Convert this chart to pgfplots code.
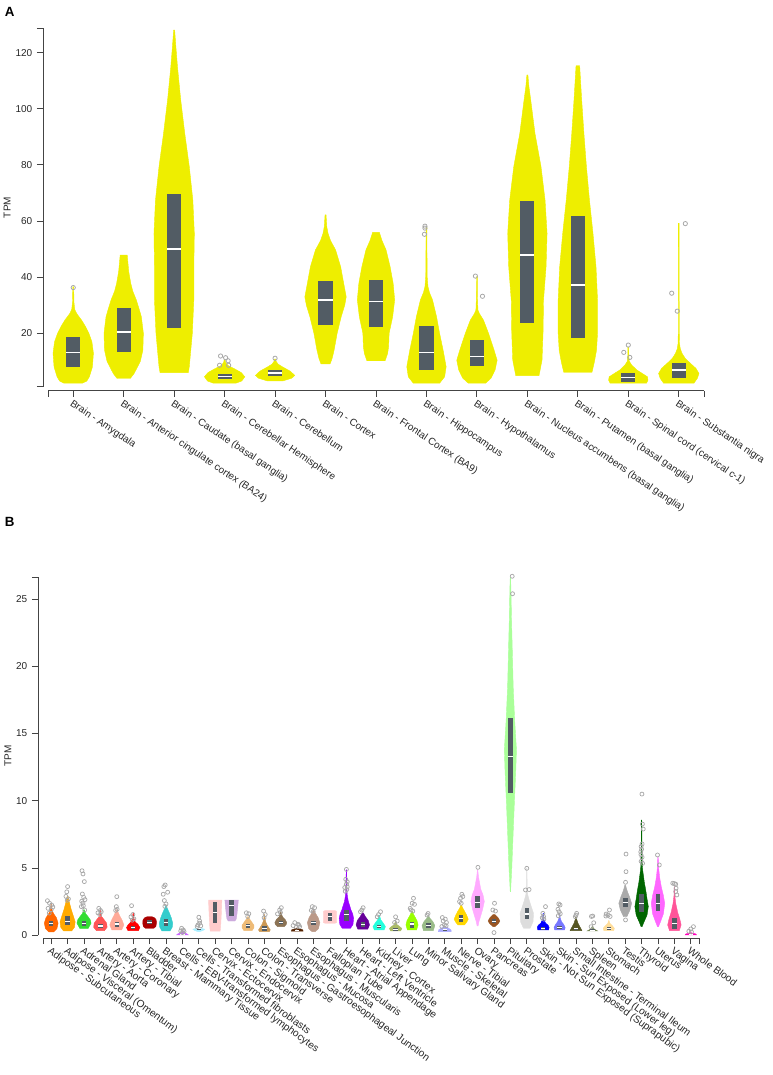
\documentclass[border=0pt]{standalone}
\usepackage{fontspec}
\setmainfont{Liberation Sans}
\usepackage{pgfplots}
\pgfplotsset{compat=1.18}

\definecolor{brain}{HTML}{EEEE00}
\definecolor{boxc}{HTML}{525C64}
\definecolor{outl}{HTML}{A8A8A8}
\definecolor{axc}{HTML}{444444}
\definecolor{c00}{HTML}{FF6600}\definecolor{c01}{HTML}{FFAA00}
\definecolor{c02}{HTML}{33DD33}\definecolor{c03}{HTML}{FF5555}
\definecolor{c04}{HTML}{FFAA99}\definecolor{c05}{HTML}{FF0000}
\definecolor{c06}{HTML}{AA0000}\definecolor{c07}{HTML}{33CCCC}
\definecolor{c08}{HTML}{CC66FF}\definecolor{c09}{HTML}{AAEEFF}
\definecolor{c10}{HTML}{FFCCCC}\definecolor{c11}{HTML}{CCAADD}
\definecolor{c12}{HTML}{EEBB77}\definecolor{c13}{HTML}{CC9955}
\definecolor{c14}{HTML}{8B7355}\definecolor{c15}{HTML}{552200}
\definecolor{c16}{HTML}{BB9988}\definecolor{c17}{HTML}{FFCCCC}
\definecolor{c18}{HTML}{9900FF}\definecolor{c19}{HTML}{660099}
\definecolor{c20}{HTML}{22FFDD}\definecolor{c21}{HTML}{AABB66}
\definecolor{c22}{HTML}{99FF00}\definecolor{c23}{HTML}{99BB88}
\definecolor{c24}{HTML}{AAAAFF}\definecolor{c25}{HTML}{FFD700}
\definecolor{c26}{HTML}{FFAAFF}\definecolor{c27}{HTML}{995522}
\definecolor{c28}{HTML}{AAFF99}\definecolor{c29}{HTML}{DDDDDD}
\definecolor{c30}{HTML}{0000FF}\definecolor{c31}{HTML}{7777FF}
\definecolor{c32}{HTML}{555522}\definecolor{c33}{HTML}{778855}
\definecolor{c34}{HTML}{FFDD99}\definecolor{c35}{HTML}{AAAAAA}
\definecolor{c36}{HTML}{006600}\definecolor{c37}{HTML}{FF66FF}
\definecolor{c38}{HTML}{FF5599}\definecolor{c39}{HTML}{FF00BB}

% violin: centre, colour, list "y/halfwidth" from bottom to top (ends at w=0).
% builds one closed outline: right side going up, left side coming down
\newcommand{\violin}[3]{%
  \gdef\vR{}\gdef\vL{}%
  \foreach \yy/\ww in {#3}{%
    \xdef\vR{\unexpanded\expandafter{\vR}\yy\space\ww\space 1\noexpand\\}%
    \xdef\vL{\yy\space\ww\space -1\noexpand\\\unexpanded\expandafter{\vL}}%
  }%
  \edef\vtab{y w s\noexpand\\\unexpanded\expandafter{\vR}\unexpanded\expandafter{\vL}}%
  \def\vdo##1{\addplot[fill=#2,draw=#2,line width=0.3pt] table[row sep=\\,x expr=#1+\thisrow{s}*\thisrow{w},y=y]{##1};}%
  \expandafter\vdo\expandafter{\vtab}%
}
% box: centre, q1, median, q3
\def\bw{0.14}
\def\mlw{1.1pt}
\newcommand{\bx}[4]{%
  \addplot[fill=boxc,draw=none] table[row sep=\\,x expr=#1+\thisrow{d}*\bw,y=y]{d y\\-1 #2\\1 #2\\1 #4\\-1 #4\\};
  \addplot[draw=white,line width=\mlw] table[row sep=\\,x expr=#1+\thisrow{d}*\bw,y=y]{d y\\-1 #3\\1 #3\\};
}

\pgfplotsset{
  vio/.style={
    scale only axis, width=492pt, height=268.65pt,
    axis x line=bottom, axis y line=left,
    axis line style={-,draw=axc,line width=0.75pt},
    tick align=outside, major tick length=4.5pt,
    tick style={draw=axc,line width=0.75pt},
    tick label style={font=\fontsize{7.5}{9}\selectfont,text=black!85},
    /pgf/number format/assume math mode=true,
    xticklabel style={rotate=-34,anchor=north west,inner sep=1pt},
    extra x tick labels={}, extra y tick labels={},
    clip=false,
  }
}

\begin{document}
\begin{tikzpicture}
\path[use as bounding box] (0,0) rectangle (579pt,806.25pt);

\node[font=\bfseries\fontsize{10}{12}\selectfont] at (7.2pt,797.4pt) {A};
\node[font=\bfseries\fontsize{10}{12}\selectfont] at (7.2pt,414.8pt) {B};
\node[rotate=90,font=\fontsize{7.5}{9}\selectfont,text=black!85] at (5.3pt,650.6pt) {TPM};
\node[rotate=90,font=\fontsize{7.5}{9}\selectfont,text=black!85] at (6pt,239.3pt) {TPM};

% ---------------- panel A ----------------
\begin{axis}[vio, at={(36pt,516.3pt)}, anchor=south west,
  xmin=-0.5, xmax=12.5, ymin=1, ymax=128.7,
  axis y line shift=3.75pt, axis x line shift=3.3pt,
  xtick={0,...,12},
  xticklabels={Brain - Amygdala, Brain - Anterior cingulate cortex (BA24),
    Brain - Caudate (basal ganglia), Brain - Cerebellar Hemisphere,
    Brain - Cerebellum, Brain - Cortex, Brain - Frontal Cortex (BA9),
    Brain - Hippocampus, Brain - Hypothalamus,
    Brain - Nucleus accumbens (basal ganglia), Brain - Putamen (basal ganglia),
    Brain - Spinal cord (cervical c-1), Brain - Substantia nigra},
  extra x ticks={-0.5,12.5},
  ytick={20,40,...,120}, extra y ticks={1,128.7},
]
\violin{0}{brain}{2.2/0,2.2/.18,3/.27,4.5/.32,8/.38,12.9/.40,17/.37,20/.31,22.5/.24,24.7/.165,27/.07,28.5/.03,31/.015,36.6/.008,36.6/0}
\violin{1}{brain}{3.9/0,3.9/.13,5.5/.2,7.5/.26,10/.33,14/.38,20/.39,25.9/.35,29/.3,31.9/.25,35/.18,37.8/.14,42/.1,47.9/.07,47.9/0}
\violin{2}{brain}{6/0,6/.28,8.1/.30,14/.33,20/.36,31.9/.39,43.7/.39,55.6/.40,67.5/.37,79.4/.30,91.3/.21,103.2/.13,115/.066,122/.035,128.1/.01,128.1/0}
\violin{3}{brain}{2.2/0,2.2/.22,3/.34,4.5/.40,6/.33,7.5/.18,8.5/.07,9.5/.02,10.5/.01,10.5/0}
\violin{4}{brain}{3.0/0,3.0/.15,4/.33,5/.39,6.5/.30,8/.15,9/.06,10/.02,10.8/.01,10.8/0}
\violin{5}{brain}{9.1/0,9.1/.09,11/.13,14/.17,20/.23,25.9/.31,30/.38,33/.41,37.8/.36,43.7/.30,49.7/.20,53/.1,55.6/.05,58/.025,62.2/.01,62.2/0}
\violin{6}{brain}{10.2/0,10.2/.18,12.8/.23,15.2/.25,20/.26,25.9/.33,31.9/.37,37.8/.34,43.7/.28,49.7/.20,53/.12,56/.066,56/0}
\violin{7}{brain}{2.2/0,2.2/.26,4.5/.36,8.1/.39,14/.33,20/.26,25.9/.2,31.9/.12,34.5/.06,36.6/.03,40/.015,50/.01,58/.008,58/0}
\violin{8}{brain}{2.2/0,2.2/.17,4/.28,6.9/.36,10.4/.40,14/.34,20/.23,24.7/.13,27/.05,28.3/.02,33/.01,40.2/.008,40.2/0}
\violin{9}{brain}{4.9/0,4.9/.23,10.4/.29,20/.31,31.9/.32,43.7/.37,55.6/.39,67.5/.35,79.4/.27,91.3/.15,103.2/.066,108/.03,112.1/.01,112.1/0}
\violin{10}{brain}{6.1/0,6.1/.28,10/.33,14/.37,20/.39,31.9/.39,43.7/.36,55.6/.30,67.5/.23,79.4/.17,91.3/.12,103.2/.076,115.4/.036,115.4/0}
\violin{11}{brain}{2.2/0,2.2/.36,3.3/.39,4.5/.38,6.9/.17,8.7/.066,10/.02,12/.01,15.1/.008,15.1/0}
\violin{12}{brain}{2.2/0,2.2/.30,4/.37,5.7/.40,7.5/.34,9.3/.23,11/.13,12.8/.066,14.5/.03,16.3/.015,20/.01,59.2/.008,59.2/0}
\bx{0}{8.1}{13.2}{18.6}
\bx{1}{13.4}{20.4}{28.9}
\bx{2}{21.8}{50}{69.7}
\bx{3}{3.6}{4.6}{5.5}
\bx{4}{4.6}{5.8}{6.9}
\bx{5}{23}{31.9}{38.6}
\bx{6}{22.1}{31.3}{39}
\bx{7}{6.9}{13.2}{22.7}
\bx{8}{8.3}{11.8}{17.6}
\bx{9}{23.6}{47.9}{67.3}
\bx{10}{18.4}{37.2}{61.9}
\bx{11}{2.8}{4.3}{5.7}
\bx{12}{4.2}{6.9}{9.3}
\addplot[only marks,mark=o,mark size=1.6pt,draw=outl,line width=0.6pt] coordinates {
 (0,36.3) (2.92,11.9) (3.02,11.3) (3.07,10.2) (2.90,8.6) (3.08,8.6) (4,11.1)
 (6.97,58.2) (6.97,57.5) (6.96,55.3) (7.97,40.4) (8.11,33.2)
 (11.0,15.8) (10.91,13.2) (11.03,11.4) (12.13,59.1) (11.86,34.3) (11.97,27.9)};
\end{axis}

% ---------------- panel B ----------------
\def\mlw{0.8pt}
\begin{axis}[vio, at={(32.25pt,104.8pt)}, anchor=south west,
  xmin=-0.5, xmax=39.5, ymin=0, ymax=26.64,
  axis y line shift=3.75pt, axis x line shift=2.2pt,
  xticklabel style={rotate=-2,font=\fontsize{7.7}{9}\selectfont},
  xtick={0,...,39},
  xticklabels={Adipose - Subcutaneous, Adipose - Visceral (Omentum), Adrenal Gland,
    Artery - Aorta, Artery - Coronary, Artery - Tibial, Bladder,
    Breast - Mammary Tissue, Cells - EBV-transformed lymphocytes,
    Cells - Transformed fibroblasts, Cervix - Ectocervix, Cervix - Endocervix,
    Colon - Sigmoid, Colon - Transverse, Esophagus - Gastroesophageal Junction,
    Esophagus - Mucosa, Esophagus - Muscularis, Fallopian Tube,
    Heart - Atrial Appendage, Heart - Left Ventricle, Kidney - Cortex, Liver, Lung,
    Minor Salivary Gland, Muscle - Skeletal, Nerve - Tibial, Ovary, Pancreas,
    Pituitary, Prostate, Skin - Not Sun Exposed (Suprapubic),
    Skin - Sun Exposed (Lower leg), Small Intestine - Terminal Ileum, Spleen,
    Stomach, Testis, Thyroid, Uterus, Vagina, Whole Blood},
  extra x ticks={-0.5,39.5},
  ytick={0,5,...,25}, extra y ticks={26.64},
]
\violin{0}{c00}{0.25/0,0.25/.15,0.5/.35,0.9/.42,1.3/.32,1.6/.15,1.9/.04,2.3/.01,2.3/0}
\violin{1}{c01}{0.32/0,0.32/.25,0.6/.42,1.0/.46,1.4/.36,1.88/.23,2.38/.12,2.87/.03,2.87/0}
\violin{2}{c02}{0.5/0,0.5/.25,0.9/.43,1.15/.38,1.38/.25,1.6/.1,1.9/.02,1.9/0}
\violin{3}{c03}{0.35/0,0.35/.25,0.6/.41,0.9/.38,1.2/.2,1.4/.06,1.9/.01,1.9/0}
\violin{4}{c04}{0.4/0,0.4/.3,0.77/.43,1.1/.33,1.4/.2,1.7/.08,1.9/.02,1.9/0}
\violin{5}{c05}{0.35/0,0.35/.32,0.57/.41,0.8/.3,1.0/.12,1.3/.03,1.67/.01,1.67/0}
\violin{6}{c06}{0.52/0,0.52/.25,0.65/.38,0.9/.42,1.15/.40,1.3/.3,1.38/.15,1.38/0}
\violin{7}{c07}{0.32/0,0.32/.25,0.6/.38,0.9/.41,1.3/.32,1.67/.2,2.0/.08,2.2/.02,2.2/0}
\violin{8}{c08}{0.02/0,0.02/.36,0.1/.28,0.2/.1,0.35/.03,0.35/0}
\violin{9}{c09}{0.27/0,0.27/.05,0.35/.25,0.45/.36,0.5/.2,0.55/0}
\violin{10}{c10}{0.3/0,0.3/.3,0.6/.33,1.5/.37,2.4/.40,2.62/.41,2.62/0}
\violin{11}{c11}{1.06/0,1.06/.2,1.2/.28,1.6/.33,2.2/.38,2.62/.41,2.62/0}
\violin{12}{c12}{0.35/0,0.35/.25,0.55/.36,0.75/.36,1.0/.22,1.2/.1,1.38/.03,1.38/0}
\violin{13}{c13}{0.27/0,0.27/.3,0.4/.36,0.6/.25,0.8/.15,1.0/.08,1.3/.03,1.54/.01,1.54/0}
\violin{14}{c14}{0.64/0,0.64/.2,0.8/.33,0.94/.36,1.15/.28,1.38/.1,1.7/.02,1.7/0}
\violin{15}{c15}{0.3/0,0.3/.36,0.4/.34,0.5/.12,0.55/0}
\violin{16}{c16}{0.27/0,0.27/.1,0.5/.3,0.94/.38,1.3/.28,1.67/.1,1.9/.02,1.9/0}
\violin{17}{c17}{0.89/0,0.89/.3,0.95/.40,1.05/.41,1.7/.41,1.8/.38,1.83/.3,1.83/0}
\violin{18}{c18}{0.52/0,0.52/.25,0.8/.4,1.26/.44,1.6/.38,1.88/.28,2.2/.2,2.5/.12,3.0/.05,3.5/.02,4.86/.01,4.86/0}
\violin{19}{c19}{0.45/0,0.45/.3,0.77/.41,1.1/.33,1.4/.15,1.67/.03,1.67/0}
\violin{20}{c20}{0.4/0,0.4/.3,0.64/.38,0.9/.25,1.14/.1,1.5/.01,1.5/0}
\violin{21}{c21}{0.32/0,0.32/.3,0.5/.38,0.65/.25,0.77/.1,1.0/.02,1.0/0}
\violin{22}{c22}{0.4/0,0.4/.28,0.77/.37,1.1/.3,1.54/.1,1.8/.02,1.8/0}
\violin{23}{c23}{0.35/0,0.35/.3,0.72/.39,1.0/.28,1.26/.1,1.45/.02,1.45/0}
\violin{24}{c24}{0.27/0,0.27/.39,0.4/.38,0.55/.2,0.64/.05,0.64/0}
\violin{25}{c25}{0.77/0,0.77/.2,1.0/.35,1.19/.43,1.5/.33,1.8/.2,2.05/.08,2.25/.02,2.25/0}
\violin{26}{c26}{0.7/0,0.7/.03,1.0/.08,1.4/.18,1.9/.3,2.5/.41,3.0/.33,3.4/.2,3.9/.12,4.4/.05,4.86/.01,4.86/0}
\violin{27}{c27}{0.64/0,0.64/.05,0.85/.25,1.06/.36,1.3/.25,1.54/.05,1.54/0}
\violin{28}{c28}{3.24/0,3.24/.01,4.86/.08,7.33/.16,9.8/.24,12.3/.33,13.8/.37,16.0/.26,18.5/.17,21.0/.12,23.4/.07,25.9/.03,26.6/.01,26.6/0}
\violin{29}{c29}{0.52/0,0.52/.2,1.0/.38,1.63/.41,2.1/.28,2.6/.15,3.0/.06,3.4/.02,5.0/.01,5.0/0}
\violin{30}{c30}{0.4/0,0.4/.33,0.59/.36,0.75/.3,0.89/.15,1.2/.03,1.63/.01,1.63/0}
\violin{31}{c31}{0.4/0,0.4/.3,0.57/.34,0.8/.25,1.01/.12,1.3/.03,1.63/.01,1.63/0}
\violin{32}{c32}{0.35/0,0.35/.36,0.6/.25,0.9/.12,1.2/.04,1.38/.01,1.38/0}
\violin{33}{c33}{0.32/0,0.32/.32,0.4/.2,0.5/.08,0.64/.02,0.64/0}
\violin{34}{c34}{0.35/0,0.35/.3,0.52/.34,0.7/.22,0.89/.06,1.1/.01,1.1/0}
\violin{35}{c35}{1.38/0,1.38/.1,1.9/.3,2.38/.39,2.8/.28,3.2/.15,3.5/.07,3.74/.02,3.74/0}
\violin{36}{c36}{0.64/0,0.64/.03,1.0/.15,1.5/.33,2.13/.41,2.8/.32,3.37/.25,3.9/.17,4.36/.12,4.9/.06,5.35/.04,6.5/.02,8.57/.01,8.57/0}
\violin{37}{c37}{0.64/0,0.64/.03,1.0/.15,1.6/.33,2.38/.41,3.0/.32,3.6/.2,4.3/.1,5.0/.04,5.85/.01,5.85/0}
\violin{38}{c38}{0.35/0,0.35/.3,0.77/.41,1.2/.33,1.7/.2,2.38/.08,3.0/.02,3.6/.01,3.6/0}
\violin{39}{c39}{0.02/0,0.02/.35,0.1/.3,0.15/.1,0.2/0}
\bx{0}{.69}{.9}{1.06}  \bx{1}{.77}{1.01}{1.45} \bx{2}{.72}{.9}{1.06}
\bx{3}{.57}{.69}{.82}  \bx{4}{.64}{.84}{1.01}  \bx{5}{.48}{.6}{.72}
\bx{6}{.82}{.97}{1.14} \bx{7}{.72}{.94}{1.19}  \bx{8}{.03}{.07}{.12}
\bx{9}{.4}{.47}{.52}   \bx{10}{.89}{1.71}{2.45} \bx{11}{1.46}{2.23}{2.6}
\bx{12}{.57}{.7}{.82}  \bx{13}{.35}{.52}{.7}   \bx{14}{.82}{.94}{1.06}
\bx{15}{.32}{.37}{.42} \bx{16}{.77}{.94}{1.09} \bx{17}{1.09}{1.43}{1.68}
\bx{18}{1.09}{1.51}{1.88} \bx{19}{.6}{.82}{1.01} \bx{20}{.52}{.64}{.74}
\bx{21}{.35}{.42}{.52} \bx{22}{.57}{.84}{1.01} \bx{23}{.57}{.72}{.9}
\bx{24}{.32}{.4}{.5}   \bx{25}{1.01}{1.26}{1.51} \bx{26}{2.0}{2.45}{2.92}
\bx{27}{.9}{1.04}{1.19} \bx{28}{10.6}{13.28}{16.13} \bx{29}{1.19}{1.58}{2.0}
\bx{30}{.4}{.52}{.64}  \bx{31}{.45}{.59}{.7}   \bx{32}{.4}{.47}{.57}
\bx{33}{.33}{.38}{.45} \bx{34}{.4}{.52}{.64}   \bx{35}{2.13}{2.43}{2.75}
\bx{36}{1.71}{2.33}{3.07} \bx{37}{1.8}{2.38}{3.07} \bx{38}{.45}{.89}{1.31}
\bx{39}{.03}{.08}{.13}
\addplot[only marks,mark=o,mark size=1.5pt,draw=outl,line width=0.55pt] coordinates {
 (-0.23,2.57) (-0.1,2.38) (0.03,2.25) (-0.19,2.0) (0.0,1.9) (-0.12,1.65) (0.1,2.1)
 (1.0,3.62) (0.95,3.23) (0.9,2.89) (1.05,2.7) (0.98,2.6)
 (1.88,4.8) (1.94,4.56) (2.02,3.99) (1.9,3.07) (1.98,2.82) (1.86,2.53) (1.94,2.4) (1.84,2.13) (2.04,1.88) (2.06,2.65) (1.96,2.2)
 (2.9,2.0) (3.0,1.85) (2.85,1.67) (2.96,1.54) (3.05,1.75)
 (4.0,2.87) (3.97,2.13) (4.02,1.93) (3.93,1.85)
 (4.9,2.2) (4.98,1.54) (4.86,1.37) (5.04,1.22) (4.94,1.12)
 (6.95,3.74) (6.87,3.62) (7.1,3.2) (6.83,3.05) (6.9,2.58) (7.0,2.33) (6.93,2.15)
 (7.95,0.52) (8.05,0.4) (7.9,0.32) (8.1,0.28) (8.0,0.2)
 (9.0,1.34) (9.05,1.06) (8.95,0.77) (8.9,0.65) (9.12,0.7) (9.05,0.9)
 (11.9,1.67) (12.05,1.6) (11.98,1.4)
 (12.95,1.8) (13.05,1.54) (12.98,1.3)
 (14.03,2.05) (13.93,1.88) (13.8,1.59) (13.98,1.7)
 (14.85,0.94) (15.05,0.82) (14.75,0.72) (15.15,0.64) (14.95,0.6) (15.1,0.75)
 (15.92,2.13) (16.06,2.05) (15.86,1.85) (15.98,1.78)
 (18.0,4.9) (17.96,4.16) (18.05,3.98) (18.0,3.8) (17.9,3.55) (18.05,3.6) (17.93,3.27) (18.02,3.4)
 (19.02,2.05) (18.94,1.88) (18.86,1.75)
 (20.08,1.75) (19.96,1.54) (19.88,1.37)
 (21.0,1.37) (21.1,1.06) (20.94,0.95)
 (22.09,2.75) (22.01,2.38) (22.15,2.3) (21.89,2.0) (21.95,1.88) (22.05,1.8)
 (22.98,1.62) (22.92,1.5)
 (23.85,1.32) (24.03,1.2) (23.9,1.06) (24.1,0.95) (23.98,0.77) (23.82,0.65) (24.08,0.7)
 (25.04,3.05) (24.96,2.75) (25.1,2.88) (24.9,2.5) (25.0,2.38)
 (26.02,5.05)
 (27.03,2.38) (26.93,1.88) (27.09,1.8) (27.0,0.2)
 (28.11,26.7) (28.13,25.4)
 (29.0,4.98) (28.92,3.37) (29.14,3.4)
 (30.14,2.13) (29.98,1.63) (30.02,1.4) (29.94,1.3) (30.04,1.2)
 (30.95,2.33) (31.03,2.25) (30.9,1.93) (30.97,1.75) (31.04,1.6) (30.92,1.45)
 (32.04,1.63) (32.0,1.5) (31.96,1.38)
 (33.02,1.43) (32.94,1.4) (33.08,0.93) (32.92,0.64)
 (34.04,1.88) (33.84,1.58) (33.96,1.5) (34.08,1.4) (33.82,1.43)
 (35.05,6.04) (35.05,4.73) (35.02,3.94) (35.02,1.14)
 (36.02,10.5) (36.05,8.27) (36.1,7.9) (36.03,6.79) (35.97,6.6) (36.0,6.4) (35.96,6.0) (36.03,5.8) (35.97,5.5) (36.06,5.35) (35.95,6.2)
 (36.97,5.97) (37.08,5.23)
 (37.9,3.87) (38.0,3.84) (38.08,3.8) (38.1,3.5) (38.15,3.0) (38.08,3.25)
 (39.16,0.64) (39.0,0.47) (38.88,0.3) (39.04,0.25)};
\end{axis}
\end{tikzpicture}
\end{document}
